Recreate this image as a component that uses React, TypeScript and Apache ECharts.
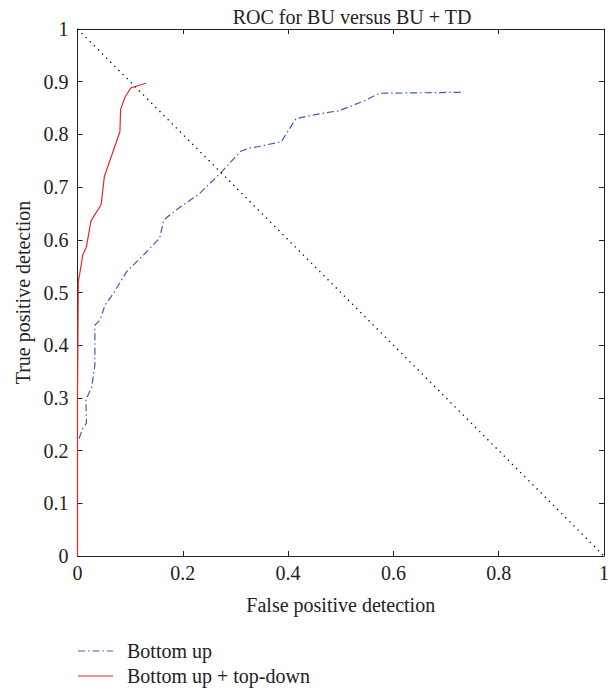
import React, { useEffect, useRef } from "react";
import * as echarts from "echarts";

const title = "ROC for BU versus BU + TD";
const xName = "False positive detection";
const yName = "True positive detection";
const seriesNames = ["Bottom up", "Bottom up + top-down"];

const buX = [0.003, 0.010, 0.017, 0.016, 0.027, 0.033, 0.033, 0.043, 0.052, 0.068, 0.093, 0.128, 0.156, 0.164, 0.188, 0.232, 0.270, 0.310, 0.327, 0.344, 0.387, 0.415, 0.459, 0.497, 0.548, 0.573, 0.734];
const buY = [0.223, 0.242, 0.252, 0.296, 0.321, 0.362, 0.438, 0.448, 0.476, 0.498, 0.539, 0.574, 0.603, 0.638, 0.657, 0.688, 0.725, 0.768, 0.774, 0.777, 0.786, 0.830, 0.839, 0.845, 0.865, 0.878, 0.880];

const tdX = [0.0, 0.0, 0.0015, 0.006, 0.010, 0.017, 0.0256, 0.045, 0.051, 0.0805, 0.082, 0.090, 0.101, 0.130];
const tdY = [0.0, 0.3, 0.520, 0.546, 0.571, 0.587, 0.636, 0.667, 0.720, 0.805, 0.848, 0.870, 0.888, 0.897];

const diagX = [0, 1];
const diagY = [1, 0];

const FONT = "Liberation Serif";
const BLUE = "#3a5cb8";
const RED = "#e8252b";
const BLUE_DASH = [7, 3, 1.5, 3];

export default function App() {
  const ref = useRef<HTMLDivElement>(null);
  useEffect(() => {
    const chart = echarts.init(ref.current!, null, { renderer: "svg" });
    const axisCommon = {
      type: "value",
      min: 0,
      max: 1,
      interval: 0.2,
      axisLine: { show: true, onZero: false, lineStyle: { color: "#222", width: 1 } },
      axisTick: { show: true, inside: true, length: 5, lineStyle: { color: "#222" } },
      splitLine: { show: false },
    };
    const labelStyle = {
      fontFamily: FONT,
      fontSize: 20,
      color: "#222",
      formatter: (v: number) => String(Math.round(v * 10) / 10),
    };
    chart.setOption({
      animation: false,
      backgroundColor: "#fff",
      title: {
        text: title,
        left: 347,
        textAlign: "center",
        top: 2,
        textStyle: { fontFamily: FONT, fontSize: 20, fontWeight: "normal", color: "#222" },
      },
      grid: { left: 77.5, right: 6.5, top: 29, bottom: 135 },
      xAxis: [
        {
          ...axisCommon,
          position: "bottom",
          name: xName,
          nameLocation: "middle",
          nameGap: 39,
          nameTextStyle: { fontFamily: FONT, fontSize: 20, color: "#222" },
          axisLabel: { ...labelStyle, margin: 7 },
        },
        { ...axisCommon, position: "top", axisLabel: { show: false } },
      ],
      yAxis: [
        {
          ...axisCommon,
          interval: 0.1,
          position: "left",
          name: yName,
          nameLocation: "middle",
          nameGap: 45,
          nameTextStyle: { fontFamily: FONT, fontSize: 20, color: "#222" },
          axisLabel: { ...labelStyle, margin: 9 },
        },
        { ...axisCommon, interval: 0.1, position: "right", axisLabel: { show: false } },
      ],
      graphic: [
        {
          type: "line",
          shape: { x1: 78, y1: 651, x2: 113, y2: 651 },
          style: { stroke: BLUE, lineWidth: 1.2, lineDash: BLUE_DASH },
        },
        {
          type: "text",
          x: 127,
          y: 651,
          style: {
            text: seriesNames[0],
            fontFamily: FONT,
            fontSize: 20,
            fill: "#222",
            verticalAlign: "middle",
          },
        },
        {
          type: "line",
          shape: { x1: 78, y1: 676, x2: 113, y2: 676 },
          style: { stroke: RED, lineWidth: 1.2 },
        },
        {
          type: "text",
          x: 127,
          y: 676,
          style: {
            text: seriesNames[1],
            fontFamily: FONT,
            fontSize: 20,
            fill: "#222",
            verticalAlign: "middle",
          },
        },
      ],
      series: [
        {
          name: seriesNames[0],
          type: "line",
          data: buX.map((x, i) => [x, buY[i]]),
          symbol: "none",
          lineStyle: { color: BLUE, width: 1.2, type: BLUE_DASH },
          itemStyle: { color: BLUE },
        },
        {
          name: seriesNames[1],
          type: "line",
          data: tdX.map((x, i) => [x, tdY[i]]),
          symbol: "none",
          lineStyle: { color: RED, width: 1.2 },
          itemStyle: { color: RED },
        },
        {
          name: "diag",
          type: "line",
          data: diagX.map((x, i) => [x, diagY[i]]),
          symbol: "none",
          lineStyle: { color: "#000", width: 1.3, type: [1.3, 4.5] },
          silent: true,
        },
      ],
    });
    return () => chart.dispose();
  }, []);
  return (
    <div
      ref={ref}
      style={{ position: "absolute", left: 0, top: 0, width: 612, height: 691 }}
    />
  );
}
